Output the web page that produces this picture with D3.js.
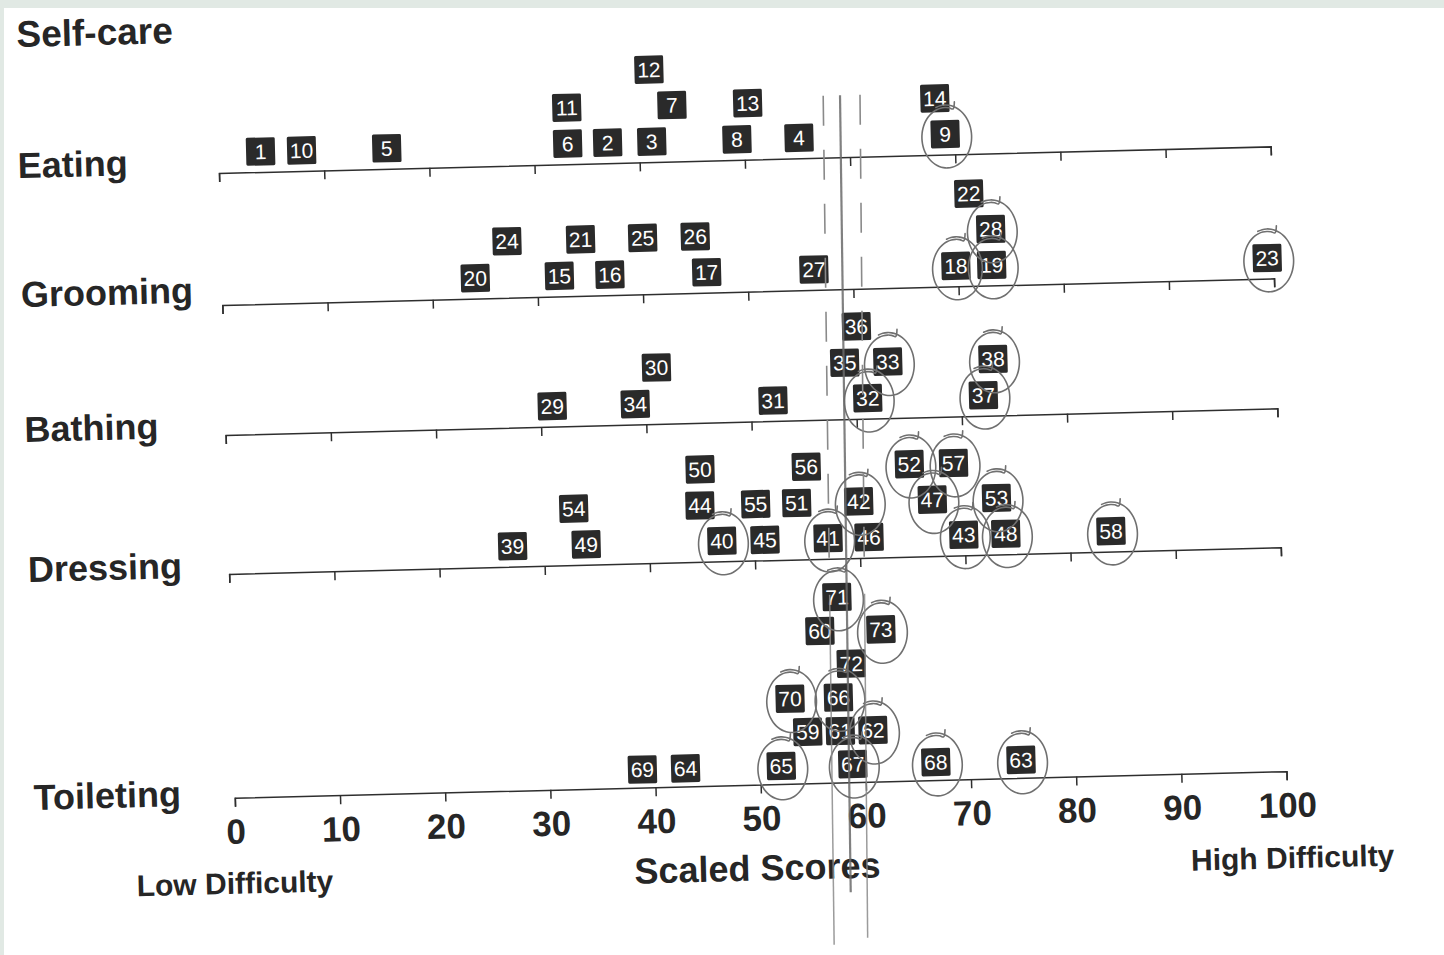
<!DOCTYPE html>
<html>
<head>
<meta charset="utf-8">
<script src="https://cdnjs.cloudflare.com/ajax/libs/d3/7.8.5/d3.min.js"></script>
<style>
  body { margin: 0; background: #e1e9e4; }
  svg { display: block; }
</style>
</head>
<body>
<div id="chart"></div>
<script>
// self-care item map, scaled scores 0-100
const domains = ['Eating', 'Grooming', 'Bathing', 'Dressing', 'Toileting']
const domainItemCounts = [14, 14, 10, 20, 15]

// scaled score for items 1..73
const itemScores = [
  4.0, 37.0, 41.2, 55.2, 16.0, 33.2, 43.2, 49.3, 69.1, 7.9, 33.2, 41.1, 50.4, 68.2,
  32.1, 36.9, 46.1, 69.8, 73.2, 24.1, 34.2, 71.2, 99.4, 27.2, 40.1, 45.1, 56.3, 73.2,
  31.1, 41.1, 52.1, 61.1, 63.1, 39.0, 59.0, 60.2, 72.1, 73.1,
  27.0, 46.9, 57.0, 60.0, 69.9, 44.9, 51.0, 60.9, 67.0, 73.9, 34.0, 45.0,
  54.1, 64.9, 73.1, 32.9, 50.2, 55.1, 69.1, 83.9,
  54.6, 56.0, 57.7, 60.8, 74.8, 42.9, 52.0, 57.6, 58.8, 66.7, 38.8, 53.0, 57.7, 58.9, 61.8
]

// stack level of each item above its axis (0 = sitting on the line)
const itemStack = [
  0, 0, 0, 0, 0, 0, 1, 0, 0, 0, 1, 2, 1, 1,
  0, 0, 0, 0, 0, 0, 1, 2, 0, 1, 1, 1, 0, 1,
  0, 1, 0, 0, 1, 0, 1, 2, 0, 1,
  0, 0, 0, 1, 0, 1, 0, 0, 1, 0, 0, 2, 1, 2, 1, 1, 1, 2, 2, 0,
  1, 4, 1, 1, 0, 0, 0, 2, 0, 0, 0, 2, 5, 3, 4
]

// items circled by hand on the original
const circledItems = [9, 18, 19, 23, 28, 32, 33, 37, 38, 40, 41, 42, 43, 47, 48,
  52, 53, 57, 58, 62, 63, 65, 66, 67, 68, 70, 71, 73]

// hand drawn reference lines (score where each starts at the top / ends at the bottom)
const refTopValues = [57.6, 59.2, 61.1]
const refBottomValues = [56.6, 58.3, 59.8]
const refDashed = [true, false, true]

const tickValues = d3.range(0, 101, 10)

const W = 1444
const H = 955
const rowY = [173, 305, 435, 574, 798]
const labelShift = [0, -3, 2, 3, 7]
const stackBase = [20.5, 20.5, 20.5, 20.5, 18]
const stackStep = [36, 36, 36, 36, 33.5]
const BOX_W = 29
const BOX_H = 28
const INK = '#262626'
const FONT = '"Liberation Sans", Arial, Helvetica, sans-serif'

let itemDomain = []
domainItemCounts.forEach((n, i) => {
  for (let k = 0; k < n; k++) itemDomain.push(i)
})

const items = itemScores.map((s, i) => ({
  id: i + 1,
  score: s,
  domain: itemDomain[i],
  level: itemStack[i],
  circled: circledItems.includes(i + 1)
}))

const svg = d3
  .select('#chart')
  .append('svg')
  .attr('width', W)
  .attr('height', H)

// paper
svg
  .append('rect')
  .attr('x', 4)
  .attr('y', 8)
  .attr('width', W - 4)
  .attr('height', H - 8)
  .attr('fill', '#ffffff')

// the scan is a little tilted, so the whole chart is too
const chart = svg.append('g').attr('transform', 'rotate(-1.45, 220, 173)')

const x = d3
  .scaleLinear()
  .domain([0, 100])
  .range([219, 1271])

const itemY = d => rowY[d.domain] - stackBase[d.domain] - d.level * stackStep[d.domain]

chart
  .append('text')
  .text('Self-care')
  .attr('x', 20)
  .attr('y', 42)
  .attr('font-family', FONT)
  .attr('font-weight', 'bold')
  .attr('font-size', 37)
  .attr('fill', INK)

domains.forEach((name, i) => {
  const last = i === domains.length - 1
  const axis = d3
    .axisBottom(x)
    .tickValues(tickValues)
    .tickSize(9)
    .tickSizeOuter(9)
    .tickFormat(last ? d => d : '')

  const g = chart
    .append('g')
    .attr('class', 'axis')
    .attr('transform', `translate(0,${rowY[i]})`)
    .call(axis)

  g.selectAll('path, line')
    .attr('stroke', '#2e2e2e')
    .attr('stroke-width', 1.5)

  g.selectAll('text')
    .attr('y', 46)
    .attr('dy', 0)
    .attr('font-family', FONT)
    .attr('font-weight', 'bold')
    .attr('font-size', 35)
    .attr('fill', INK)

  chart
    .append('text')
    .text(name)
    .attr('x', 18)
    .attr('y', rowY[i] + labelShift[i])
    .attr('font-family', FONT)
    .attr('font-weight', 'bold')
    .attr('font-size', 36)
    .attr('fill', INK)
})

const bottomY = rowY[4] + 96

chart
  .append('text')
  .text('Scaled Scores')
  .attr('x', x(49.5))
  .attr('y', bottomY)
  .attr('text-anchor', 'middle')
  .attr('font-family', FONT)
  .attr('font-weight', 'bold')
  .attr('font-size', 36)
  .attr('fill', INK)

chart
  .append('text')
  .text('Low Difficulty')
  .attr('x', x(0) - 2)
  .attr('y', bottomY)
  .attr('text-anchor', 'middle')
  .attr('font-family', FONT)
  .attr('font-weight', 'bold')
  .attr('font-size', 30)
  .attr('fill', INK)

chart
  .append('text')
  .text('High Difficulty')
  .attr('x', x(100) + 4)
  .attr('y', bottomY + 1)
  .attr('text-anchor', 'middle')
  .attr('font-family', FONT)
  .attr('font-weight', 'bold')
  .attr('font-size', 30)
  .attr('fill', INK)

// numbered item boxes
const boxes = chart
  .selectAll('g.item')
  .data(items)
  .enter()
  .append('g')
  .attr('class', 'item')
  .attr('transform', d => `translate(${x(d.score)},${itemY(d)})`)

boxes
  .append('rect')
  .attr('x', -BOX_W / 2)
  .attr('y', -BOX_H / 2)
  .attr('width', BOX_W)
  .attr('height', BOX_H)
  .attr('rx', 1.5)
  .attr('fill', '#2a2a2a')

boxes
  .append('text')
  .text(d => d.id)
  .attr('text-anchor', 'middle')
  .attr('dy', '0.36em')
  .attr('font-family', FONT)
  .attr('font-size', 21)
  .attr('fill', '#ffffff')

// pen loops round the circled items
function loopPath(cx, cy) {
  const pts = d3.range(0, 41).map(i => {
    const t = i / 40
    const a = -Math.PI / 2 - 0.38 + t * (2 * Math.PI + 0.7)
    const k = 1.04 - 0.09 * t
    return [cx + 25 * k * Math.cos(a), cy + 31 * k * Math.sin(a)]
  })
  pts.push([cx + 9, cy - 35])
  return d3.line().curve(d3.curveCatmullRom)(pts)
}

chart
  .selectAll('path.loop')
  .data(items.filter(d => d.circled))
  .enter()
  .append('path')
  .attr('class', 'loop')
  .attr('d', d => loopPath(x(d.score) + 1, itemY(d) + 3))
  .attr('fill', 'none')
  .attr('stroke', '#707070')
  .attr('stroke-width', 1.6)
  .attr('stroke-linecap', 'round')

// reference lines drawn over everything
const refTop = 111
const refSplit = 590
const refBottom = [960, 908, 954]

refTopValues.forEach((v, i) => {
  const xTop = x(v)
  const xBot = x(refBottomValues[i])
  const xAt = y => xTop + ((xBot - xTop) * (y - refTop)) / (refBottom[i] - refTop)
  if (refDashed[i]) {
    chart
      .append('line')
      .attr('x1', xTop)
      .attr('x2', xAt(refSplit))
      .attr('y1', refTop)
      .attr('y2', refSplit)
      .attr('stroke', '#8a8a8a')
      .attr('stroke-width', 1.6)
      .attr('stroke-dasharray', '30,24')
    chart
      .append('line')
      .attr('x1', xAt(refSplit + 20))
      .attr('x2', xBot)
      .attr('y1', refSplit + 20)
      .attr('y2', refBottom[i])
      .attr('stroke', '#8a8a8a')
      .attr('stroke-width', 1.5)
      .attr('stroke-opacity', 0.85)
  } else {
    chart
      .append('line')
      .attr('x1', xTop)
      .attr('x2', xBot)
      .attr('y1', refTop)
      .attr('y2', refBottom[i])
      .attr('stroke', '#6a6a6a')
      .attr('stroke-width', 2.2)
      .attr('stroke-opacity', 0.85)
  }
})
</script>
</body>
</html>
